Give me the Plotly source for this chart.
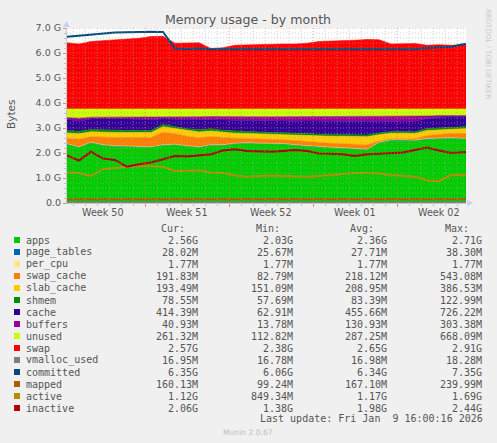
import pandas as pd
import plotly.graph_objects as go

# sampling: one value per day, starting at the left edge of the graph
t0 = "2025-12-08 12:00"
x_range = ["2025-12-08 12:00", "2026-01-10 18:00"]

# stacked areas (GiB)
apps = [2.34, 2.22, 2.40, 2.30, 2.26, 2.24, 2.22, 2.22, 2.30, 2.32, 2.26, 2.22, 2.30, 2.30, 2.36, 2.38, 2.36, 2.36,
        2.35, 2.30, 2.26, 2.22, 2.20, 2.18, 2.15, 2.12, 2.40, 2.50, 2.50, 2.48, 2.55, 2.57, 2.58, 2.56, 2.56]
page_tables = [0.027, 0.027, 0.028, 0.027, 0.027, 0.026, 0.027, 0.027, 0.028, 0.028, 0.027, 0.027, 0.027, 0.028,
               0.028, 0.027, 0.027, 0.027, 0.028, 0.028, 0.027, 0.027, 0.027, 0.028, 0.028, 0.028, 0.027, 0.027,
               0.027, 0.027, 0.028, 0.028, 0.027, 0.027, 0.027]
per_cpu = [0.0017, 0.0017, 0.0017, 0.0017, 0.0017, 0.0017, 0.0017, 0.0017, 0.0017, 0.0017, 0.0017, 0.0017,
           0.0017, 0.0017, 0.0017, 0.0017, 0.0017, 0.0017, 0.0017, 0.0017, 0.0017, 0.0017, 0.0017, 0.0017,
           0.0017, 0.0017, 0.0017, 0.0017, 0.0017, 0.0017, 0.0017, 0.0017, 0.0017, 0.0017, 0.0017]
swap_cache = [0.22, 0.30, 0.22, 0.30, 0.33, 0.35, 0.36, 0.37, 0.50, 0.42, 0.38, 0.36, 0.33, 0.28, 0.20, 0.17, 0.16,
              0.15, 0.15, 0.16, 0.17, 0.17, 0.16, 0.16, 0.16, 0.17, 0.05, 0.04, 0.04, 0.05, 0.12, 0.14, 0.17, 0.19, 0.19]
slab_cache = [0.21, 0.22, 0.20, 0.20, 0.20, 0.20, 0.21, 0.20, 0.22, 0.20, 0.22, 0.23, 0.22, 0.21, 0.20, 0.20, 0.21,
              0.21, 0.20, 0.22, 0.24, 0.26, 0.28, 0.30, 0.32, 0.33, 0.25, 0.22, 0.22, 0.22, 0.20, 0.19, 0.19, 0.19, 0.19]
shmem = [0.10, 0.10, 0.09, 0.09, 0.09, 0.08, 0.08, 0.08, 0.09, 0.08, 0.08, 0.09, 0.09, 0.09, 0.08, 0.08, 0.08, 0.08,
         0.08, 0.08, 0.08, 0.07, 0.07, 0.07, 0.07, 0.07, 0.07, 0.07, 0.07, 0.07, 0.08, 0.08, 0.08, 0.08, 0.08]
cache = [0.45, 0.40, 0.42, 0.45, 0.45, 0.46, 0.45, 0.44, 0.22, 0.30, 0.38, 0.42, 0.38, 0.42, 0.45, 0.45, 0.46, 0.45,
         0.46, 0.48, 0.50, 0.52, 0.53, 0.52, 0.53, 0.55, 0.46, 0.40, 0.41, 0.42, 0.40, 0.42, 0.41, 0.41, 0.41]
buffers = [0.07, 0.12, 0.07, 0.06, 0.07, 0.07, 0.08, 0.09, 0.08, 0.09, 0.10, 0.10, 0.11, 0.12, 0.13, 0.14, 0.15, 0.17,
           0.18, 0.18, 0.17, 0.18, 0.19, 0.20, 0.20, 0.19, 0.20, 0.20, 0.19, 0.19, 0.10, 0.07, 0.05, 0.04, 0.04]
unused = [0.341, 0.371, 0.331, 0.331, 0.331, 0.331, 0.331, 0.331, 0.321, 0.321, 0.311, 0.311, 0.301, 0.311, 0.311,
          0.311, 0.311, 0.311, 0.311, 0.311, 0.311, 0.311, 0.301, 0.301, 0.301, 0.301, 0.301, 0.301, 0.301, 0.301,
          0.281, 0.261, 0.251, 0.261, 0.261]
swap = [2.65, 2.60, 2.70, 2.73, 2.77, 2.80, 2.83, 2.90, 2.91, 2.63, 2.65, 2.65, 2.42, 2.45, 2.55, 2.57, 2.57, 2.58,
        2.60, 2.60, 2.63, 2.70, 2.71, 2.73, 2.75, 2.78, 2.77, 2.60, 2.61, 2.62, 2.55, 2.57, 2.55, 2.57, 2.57]

# lines (GiB)
vmalloc_used = [0.0166, 0.0166, 0.0166, 0.0167, 0.0166, 0.0166, 0.0165, 0.0166, 0.0166, 0.0166, 0.0166, 0.0167,
                0.0166, 0.0166, 0.0166, 0.0166, 0.0166, 0.0166, 0.0167, 0.0166, 0.0166, 0.0166, 0.0166, 0.0166,
                0.0166, 0.0166, 0.0166, 0.0166, 0.0167, 0.0166, 0.0166, 0.0166, 0.0166, 0.0166, 0.0166]
committed = [6.65, 6.70, 6.72, 6.80, 6.82, 6.83, 6.85, 6.85, 6.84, 6.18, 6.15, 6.18, 6.15, 6.15, 6.13, 6.14, 6.14,
             6.15, 6.15, 6.15, 6.16, 6.15, 6.16, 6.15, 6.16, 6.15, 6.14, 6.13, 6.13, 6.15, 6.20, 6.22, 6.25, 6.35, 6.38]
mapped = [0.15, 0.15, 0.16, 0.16, 0.16, 0.15, 0.16, 0.16, 0.15, 0.14, 0.15, 0.15, 0.16, 0.16, 0.15, 0.15, 0.16, 0.16,
          0.17, 0.17, 0.16, 0.16, 0.17, 0.16, 0.16, 0.17, 0.16, 0.16, 0.15, 0.15, 0.16, 0.16, 0.16, 0.16, 0.16]
active = [1.22, 1.20, 1.08, 1.35, 1.40, 1.45, 1.48, 1.48, 1.45, 1.28, 1.30, 1.30, 1.22, 1.20, 1.10, 1.05, 1.08, 1.10,
          1.08, 1.05, 1.05, 1.08, 1.12, 1.15, 1.20, 1.20, 1.18, 1.12, 1.10, 1.05, 0.90, 0.87, 1.12, 1.12, 1.12]
inactive = [1.90, 1.70, 2.05, 1.78, 1.72, 1.45, 1.55, 1.62, 1.75, 1.88, 1.86, 1.92, 1.95, 2.10, 2.15, 2.08, 2.05,
            2.05, 2.08, 2.12, 2.08, 1.98, 1.97, 1.95, 1.88, 1.95, 1.97, 2.00, 2.02, 2.12, 2.22, 2.10, 2.00, 2.03, 2.05]

names = ["apps", "page_tables", "per_cpu", "swap_cache", "slab_cache", "shmem", "cache", "buffers", "unused",
         "swap", "vmalloc_used", "committed", "mapped", "active", "inactive"]
colors = ["#00CC00", "#0066B3", "#FFE680", "#FF8000", "#FFCC00", "#008F00", "#330099", "#990099", "#CCFF00",
          "#FF0000", "#808080", "#00487D", "#B35A00", "#B38F00", "#B30000"]
cur = ["2.56G", "28.02M", "1.77M", "191.83M", "193.49M", "78.55M", "414.39M", "40.93M", "261.32M", "2.57G",
       "16.95M", "6.35G", "160.13M", "1.12G", "2.06G"]
mins = ["2.03G", "25.67M", "1.77M", "82.79M", "151.09M", "57.69M", "62.91M", "13.78M", "112.82M", "2.38G",
        "16.78M", "6.06G", "99.24M", "849.34M", "1.38G"]
avgs = ["2.36G", "27.71M", "1.77M", "218.12M", "208.95M", "83.39M", "455.66M", "130.93M", "287.25M", "2.65G",
        "16.98M", "6.34G", "167.10M", "1.17G", "1.98G"]
maxs = ["2.71G", "38.30M", "1.77M", "543.08M", "386.53M", "122.99M", "726.22M", "303.38M", "668.09M", "2.91G",
        "18.28M", "7.35G", "239.99M", "1.69G", "2.44G"]

y_ticks = [0, 1, 2, 3, 4, 5, 6, 7]
y_ticktext = ["0.0", "1.0 G", "2.0 G", "3.0 G", "4.0 G", "5.0 G", "6.0 G", "7.0 G"]
week_mid = ["2025-12-11 12:00", "2025-12-18 12:00", "2025-12-25 12:00", "2026-01-01 12:00", "2026-01-08 12:00"]
week_labels = ["Week 50", "Week 51", "Week 52", "Week 01", "Week 02"]

times = pd.date_range(t0, periods=len(apps), freq="D")

# pixel geometry of the 497x443 picture
L, R, T, B = 67, 466, 28, 203
def px(x):
    return (x - L) / (R - L)
def py(y):
    return (B - y) / (B - T)

TXT = "#555555"
SANS = "DejaVu Sans"
MONO = "DejaVu Sans Mono"

fig = go.Figure()

areas = [apps, page_tables, per_cpu, swap_cache, slab_cache, shmem, cache, buffers, unused, swap]
for name, vals, col in zip(names[:10], areas, colors[:10]):
    fig.add_trace(go.Scatter(x=times, y=vals, name=name, mode="lines", stackgroup="mem",
                             line=dict(width=0.6, color=col), fillcolor=col))

lines = [vmalloc_used, committed, mapped, active, inactive]
for name, vals, col in zip(names[10:], lines, colors[10:]):
    fig.add_trace(go.Scatter(x=times, y=vals, name=name, mode="lines", line=dict(width=2, color=col)))

shapes = []
# grid on top of the areas, like rrdtool does
for k in range(1, 36):
    major = k % 5 == 0
    shapes.append(dict(type="line", xref="paper", yref="y", x0=0, x1=1, y0=k * 0.2, y1=k * 0.2, layer="above",
                       line=dict(width=1, dash="1px,2px",
                                 color="rgba(240,110,110,0.7)" if major else "rgba(170,170,170,0.55)")))
for d in pd.date_range("2025-12-09", "2026-01-10", freq="D"):
    major = d.weekday() == 0
    shapes.append(dict(type="line", xref="x", yref="paper", x0=d, x1=d, y0=0, y1=1, layer="above",
                       line=dict(width=1, dash="1px,2px",
                                 color="rgba(240,110,110,0.7)" if major else "rgba(170,170,170,0.55)")))
# axis arrows
shapes.append(dict(type="path", xref="paper", yref="paper", fillcolor="#c8d0f4", line=dict(width=0),
                   path="M %f,%f L %f,%f L %f,%f Z" % (px(63), py(27), px(70), py(27), px(66.5), py(21))))
shapes.append(dict(type="path", xref="paper", yref="paper", fillcolor="#c8d0f4", line=dict(width=0),
                   path="M %f,%f L %f,%f L %f,%f Z" % (px(467), py(199.5), px(467), py(206.5), px(473), py(203))))
# legend swatches
for i, col in enumerate(colors):
    yc = 240 + 12 * i
    shapes.append(dict(type="rect", xref="paper", yref="paper", x0=px(14), x1=px(20), y0=py(yc + 3), y1=py(yc - 3),
                       fillcolor=col, line=dict(width=0)))

ann = []
ann.append(dict(text="Memory usage - by month", x=px(248), y=py(19), font=dict(family=SANS, size=12.6, color=TXT)))
ann.append(dict(text="Bytes", x=px(11), y=py(115), textangle=-90, font=dict(family=SANS, size=10.5, color=TXT)))
ann.append(dict(text="RRDTOOL / TOBI OETIKER", x=px(488), y=py(54), textangle=90,
                font=dict(family=SANS, size=7, color="#c8c8c8")))
for wm, wl in zip(week_mid, week_labels):
    ann.append(dict(text=wl, xref="x", x=wm, y=py(212.5), font=dict(family=SANS, size=9.6, color=TXT)))

heads = [("Cur:", 186), ("Min:", 281), ("Avg:", 375), ("Max:", 470)]
for h, xr in heads:
    ann.append(dict(text=h, x=px(xr), y=py(228), xanchor="right", font=dict(family=MONO, size=10, color=TXT)))
for i, name in enumerate(names):
    yc = 240 + 12 * i
    ann.append(dict(text=name, x=px(25), y=py(yc), xanchor="left", font=dict(family=MONO, size=10, color=TXT)))
    for col_vals, xr in zip([cur, mins, avgs, maxs], [199, 294, 388, 483]):
        ann.append(dict(text=col_vals[i], x=px(xr), y=py(yc), xanchor="right",
                        font=dict(family=MONO, size=10, color=TXT)))
ann.append(dict(text="Last update: Fri Jan  9 16:00:16 2026".replace(" ", "&nbsp;"), x=px(484), y=py(419),
                xanchor="right", font=dict(family=MONO, size=10, color=TXT)))
ann.append(dict(text="Munin 2.0.67", x=px(248), y=py(432), font=dict(family=SANS, size=7.6, color="#c0c0c0")))
for a in ann:
    a.setdefault("xref", "paper")
    a.setdefault("yref", "paper")
    a.setdefault("xanchor", "center")
    a["yanchor"] = "middle"
    a["showarrow"] = False
    a["borderpad"] = 0

fig.update_layout(
    width=497, height=443,
    margin=dict(l=L, r=497 - R, t=T, b=443 - B),
    paper_bgcolor="#F0F0F0", plot_bgcolor="#FFFFFF",
    showlegend=False,
    shapes=shapes, annotations=ann,
    xaxis=dict(type="date", range=x_range, showgrid=False, zeroline=False, showticklabels=False,
               tickmode="linear", tick0="2025-12-08", dtick=7 * 86400000,
               ticks="outside", ticklen=3, tickcolor="#f08080",
               minor=dict(dtick=86400000, ticks="outside", ticklen=2, tickcolor="#c0c0c0", showgrid=False),
               showline=True, linecolor="#c8c8c8", linewidth=1),
    yaxis=dict(range=[0, 7.0], tickvals=y_ticks, ticktext=y_ticktext, showgrid=False, zeroline=False,
               ticks="outside", ticklen=3, tickcolor="#f08080",
               minor=dict(dtick=0.2, ticks="outside", ticklen=2, tickcolor="#c0c0c0", showgrid=False),
               tickfont=dict(family=SANS, size=9.5, color=TXT),
               showline=True, linecolor="#c8c8c8", linewidth=1),
)

# the page's default 8px body margin would shift the whole picture
fig.write_html("out.html", config={"displayModeBar": False},
               post_script="document.body.style.margin='0';document.body.style.background='#F0F0F0';")
